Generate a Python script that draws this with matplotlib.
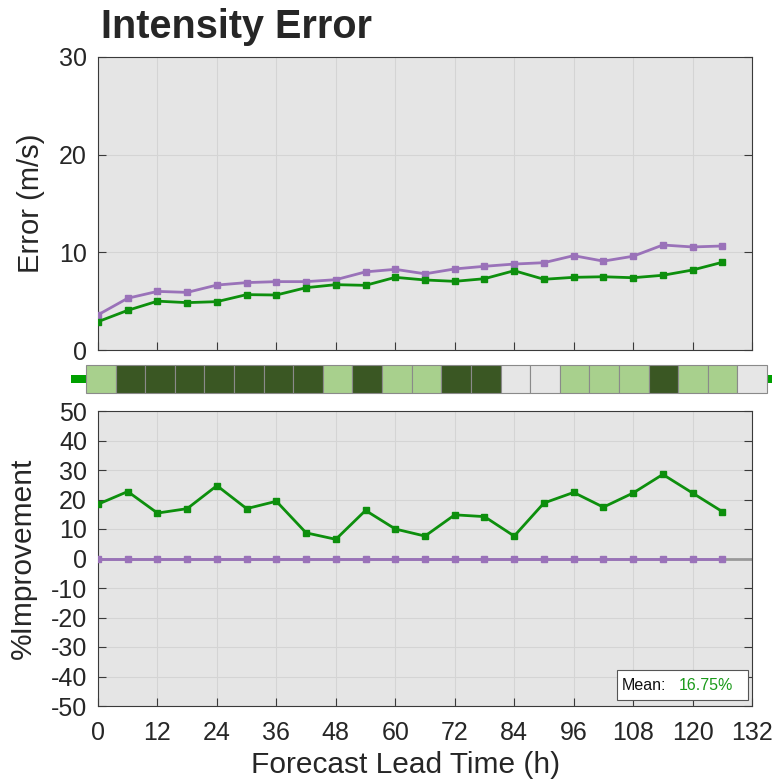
import matplotlib
matplotlib.use("Agg")
import matplotlib.pyplot as plt
from matplotlib.patches import Rectangle
import numpy as np

plt.rcParams['font.family'] = ['Liberation Sans', 'DejaVu Sans']
plt.rcParams['axes.unicode_minus'] = False

lead_hours = [0, 6, 12, 18, 24, 30, 36, 42, 48, 54, 60, 66, 72, 78, 84, 90, 96, 102, 108, 114, 120, 126]
error_base = [3.6, 5.3, 6.0, 5.9, 6.65, 6.9, 7.0, 7.0, 7.2, 8.0, 8.26, 7.8, 8.3, 8.57, 8.8, 8.94, 9.66, 9.1, 9.6, 10.75, 10.55, 10.65]
error_model = [2.9, 4.06, 5.0, 4.85, 4.95, 5.67, 5.63, 6.38, 6.69, 6.62, 7.44, 7.17, 7.03, 7.3, 8.12, 7.24, 7.44, 7.5, 7.4, 7.65, 8.19, 8.98]
improve_model = [18.4, 22.7, 15.4, 16.9, 24.7, 16.9, 19.4, 8.7, 6.5, 16.3, 10.0, 7.6, 14.8, 14.2, 7.6, 18.8, 22.4, 17.4, 22.2, 28.5, 22.2, 15.9]
improve_base = [0.0] * 22
strip_hours = list(range(0, 133, 6))
strip_state = [1, 2, 2, 2, 2, 2, 2, 2, 1, 2, 1, 1, 2, 2, 0, 0, 1, 1, 1, 2, 1, 1, 0]
mean_label = "16.75%"
xticks = list(range(0, 133, 12))
top_yticks = [0, 10, 20, 30]
bot_yticks = list(range(-50, 51, 10))

PURPLE = '#9a72b9'
GREEN = '#0d8f0d'
BG = '#e5e5e5'
GRID = '#d4d4d4'
EDGE = '#3a3a3a'
TXT = '#262626'
state_colors = {0: '#e6e6e6', 1: '#a8d08d', 2: '#3a5723'}

W, H = 772, 784
fig = plt.figure(figsize=(W / 100, H / 100), dpi=100)

def fx(px):
    return px / W

def fy(py):
    return 1 - py / H

left, right = 98, 752
ax1 = fig.add_axes([fx(left), fy(350), fx(right) - fx(left), fy(57) - fy(350)])
ax2 = fig.add_axes([fx(left), fy(706), fx(right) - fx(left), fy(411) - fy(706)])
axs = fig.add_axes([fx(86), fy(393), fx(767) - fx(86), fy(365) - fy(393)])

def style(ax):
    ax.set_facecolor(BG)
    ax.grid(True, color=GRID, linewidth=0.8)
    ax.set_axisbelow(True)
    for s in ax.spines.values():
        s.set_color(EDGE)
        s.set_linewidth(0.8)
    ax.tick_params(direction='in', length=6, width=0.8, color=EDGE,
                   labelsize=18, right=True, top=False, labelcolor=TXT)
    ax.tick_params(axis='x', pad=11)
    ax.tick_params(axis='y', pad=8)
    ax.set_xlim(0, 132)
    ax.set_xticks(xticks)

style(ax1)
ax1.set_ylim(0, 30)
ax1.set_yticks(top_yticks)
ax1.set_xticklabels([])
ax1.plot(lead_hours, error_base, color=PURPLE, lw=2, marker='s', ms=4.5, zorder=3)
ax1.plot(lead_hours, error_model, color=GREEN, lw=2, marker='s', ms=4.5, zorder=4)
ax1.set_ylabel('Error (m/s)', fontsize=21, color=TXT)
ax1.yaxis.set_label_coords((45 - 98) / 654, 0.5)
fig.text(fx(101), fy(38), 'Intensity Error', fontsize=28.5, fontweight='bold',
         color=TXT, va='baseline', ha='left')

style(ax2)
ax2.set_ylim(-50, 50)
ax2.set_yticks(bot_yticks)
ax2.axhline(0, color='#999999', lw=2, zorder=2)
ax2.plot(lead_hours, improve_base, color=PURPLE, lw=2, marker='s', ms=4.5, zorder=3)
ax2.plot(lead_hours, improve_model, color=GREEN, lw=2, marker='s', ms=4.5, zorder=4)
ax2.set_ylabel('%Improvement', fontsize=21.5, color=TXT)
ax2.yaxis.set_label_coords((37 - 98) / 654, 0.5)
ax2.set_xlabel('Forecast Lead Time (h)', fontsize=21.5, color=TXT)
ax2.xaxis.set_label_coords((406 - 98) / 654, -(751 - 706) / 295)

# mean box
box = Rectangle(((617 - 98) / 654, (706 - 700) / 295), 131 / 654, 30 / 295,
                transform=ax2.transAxes, facecolor='white',
                edgecolor='#555555', lw=0.8, zorder=9)
ax2.add_patch(box)
ty = (706 - 686) / 295
ax2.text((622 - 98) / 654, ty, 'Mean:', transform=ax2.transAxes, fontsize=11.5,
         va='center', ha='left', color='#111111', zorder=10)
ax2.text((679 - 98) / 654, ty, mean_label, transform=ax2.transAxes, fontsize=11.5,
         va='center', ha='left', color='#1a9a1a', zorder=10)

# strip
n = len(strip_state)
axs.set_xlim(0, n)
axs.set_ylim(0, 1)
axs.axis('off')
axs.add_patch(Rectangle((-0.5, 0.34), n + 1.5, 0.32, facecolor='#00a000', edgecolor='none',
                        clip_on=False, zorder=1))
for i, (h, st) in enumerate(zip(strip_hours, strip_state)):
    axs.add_patch(Rectangle((i, 0), 1, 1, facecolor=state_colors[st],
                            edgecolor='#8a8a8a', lw=0.8, clip_on=False, zorder=2))

fig.savefig('out.png', dpi=100)
